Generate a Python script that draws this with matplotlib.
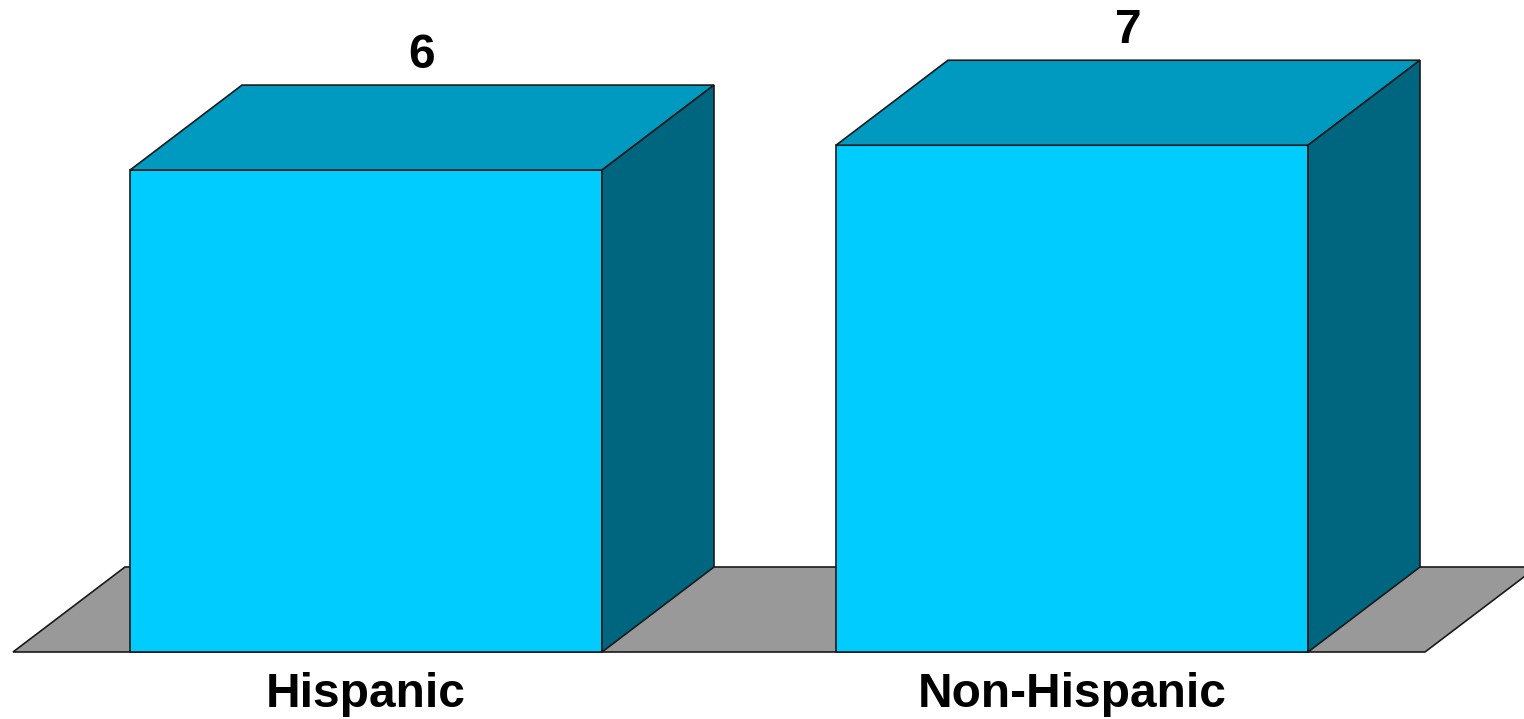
import numpy as np
import matplotlib.pyplot as plt
from matplotlib.patches import Polygon

categories = ["Hispanic", "Non-Hispanic"]
values = [6.4, 6.73]          # bar heights
labels = ["6", "7"]           # data labels as printed

# colours
front_c = "#00CCFF"
top_c = "#0099BF"
side_c = "#006680"
floor_c = "#999999"
edge_c = "#1a1a1a"

# layout (pixels -> data units)
W, H = 1524, 719
px_per_x = 706.0              # distance between bar centres
px_per_y = 75.3
x0_px, y0_px = 366, 67        # first bar centre, floor front line
bar_w = 472 / px_per_x
dx = 112 / px_per_x           # depth offset
dy = 85 / px_per_y

fig = plt.figure(figsize=(W / 100, H / 100), dpi=100)
ax = fig.add_axes([0, 0, 1, 1])
ax.set_xlim(-x0_px / px_per_x, (W - x0_px) / px_per_x)
ax.set_ylim(-y0_px / px_per_y, (H - y0_px) / px_per_y)
ax.axis("off")

x = np.arange(len(categories))

# floor
fl, fr = x[0] - 0.5, x[-1] + 0.5
ax.add_patch(Polygon([(fl, 0), (fr, 0), (fr + dx, dy), (fl + dx, dy)],
                     closed=True, fc=floor_c, ec=edge_c, lw=1.2, zorder=1))

for xi, v, lab, cat in zip(x, values, labels, categories):
    l, r = xi - bar_w / 2, xi + bar_w / 2
    # front face
    ax.add_patch(Polygon([(l, 0), (r, 0), (r, v), (l, v)],
                         closed=True, fc=front_c, ec=edge_c, lw=1.2, zorder=3))
    # top face
    ax.add_patch(Polygon([(l, v), (r, v), (r + dx, v + dy), (l + dx, v + dy)],
                         closed=True, fc=top_c, ec=edge_c, lw=1.2, zorder=3))
    # side face
    ax.add_patch(Polygon([(r, 0), (r + dx, dy), (r + dx, v + dy), (r, v)],
                         closed=True, fc=side_c, ec=edge_c, lw=1.2, zorder=3))
    ax.text(xi + dx / 2, v + dy + 17 / px_per_y, lab, ha="center", va="baseline",
            fontsize=34.5, fontweight="bold", family="Liberation Sans")
    ax.text(xi, -55 / px_per_y, cat, ha="center", va="baseline",
            fontsize=34.5, fontweight="bold", family="Liberation Sans")

plt.savefig("out.png", dpi=100)
